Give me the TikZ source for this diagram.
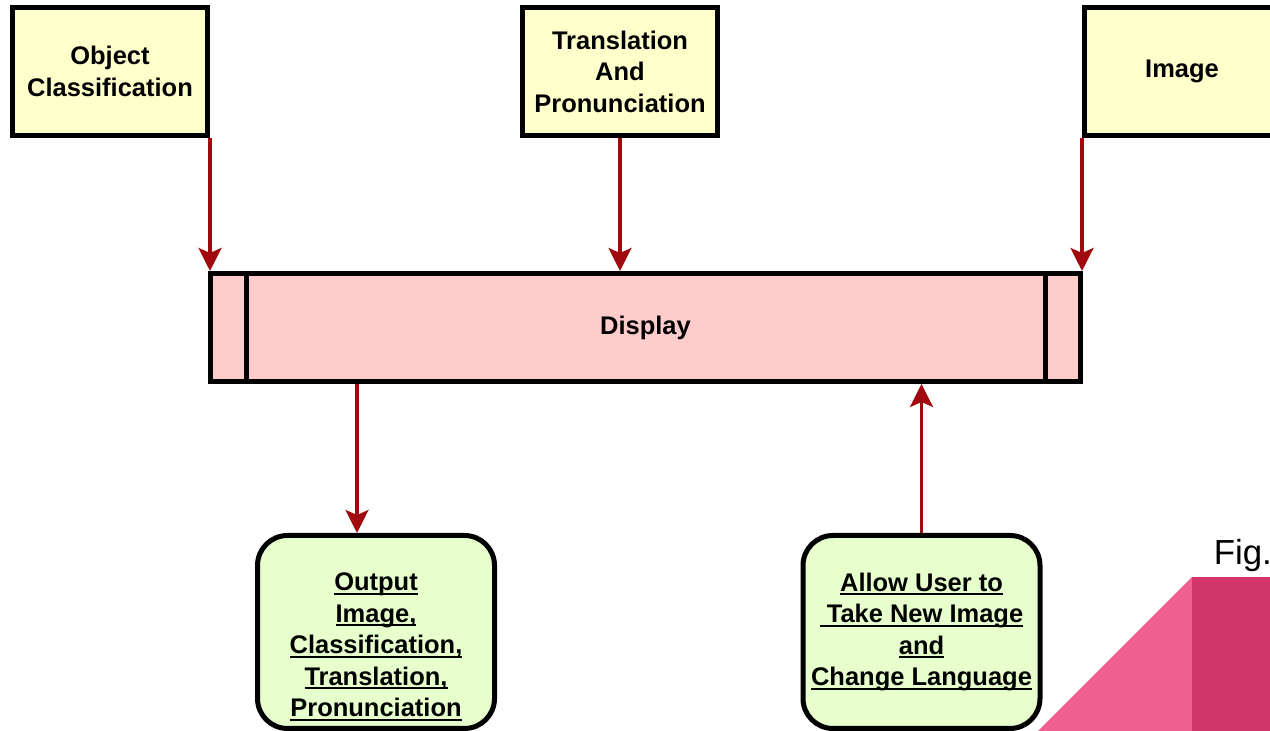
\documentclass[tikz,border=0pt]{standalone}
\usepackage{fontspec}
\setmainfont{Liberation Sans}
\usepackage{tikz}
\usetikzlibrary{arrows.meta}

\definecolor{boxyellow}{HTML}{FFFFCC}
\definecolor{barpink}{HTML}{FFCCCC}
\definecolor{boxgreen}{HTML}{E6FFCC}
\definecolor{flowred}{HTML}{A00A0F}
\definecolor{cornerlight}{HTML}{EF5F8F}
\definecolor{cornerdark}{HTML}{D03469}
\newcommand{\undl}[1]{\leavevmode\setbox0\hbox{#1}\rlap{\rule[-2.2pt]{\wd0}{1.1pt}}\box0}

\begin{document}
\begin{tikzpicture}
  \tikzset{block/.style = {shape=rectangle,draw,line width=0.1cm,fill=boxyellow,minimum width=3.9cm,minimum height=2.56cm,inner sep=1pt,align=center,font=\fontsize{14.5}{17.9}\selectfont\bfseries}}
  \tikzset{bar/.style = {block,fill=barpink,minimum width=17.4cm,minimum height=2.16cm}}
  \tikzset{endbox/.style = {block,fill=boxgreen,rounded corners=0.6cm,minimum width=4.74cm,minimum height=3.86cm}}
  \tikzset{flow/.style = {-{Stealth[length=0.46cm,width=0.46cm,inset=0.1cm]},draw=flowred,fill=flowred,line width=0.065cm}}

  \useasboundingbox (0,0) rectangle (25.4,14.62);

  % corner decoration
  \fill[cornerlight] (20.76,0) -- (23.84,3.08) -- (23.84,0) -- cycle;
  \fill[cornerdark] (23.84,0) rectangle (25.4,3.08);
  \node[anchor=base west,inner sep=0pt,font=\fontsize{19.8}{24}\selectfont] (fig) at (24.27,3.32) {Fig.};

	\node[block] (obj) at (2.2,13.19) {Object\\Classification};
	\node[block] (trans) at (12.4,13.19) {Translation\\And\\Pronunciation};
	\node[block] (img) at (23.64,13.19) {Image};

	\node[bar] (disp) at (12.91,8.07) {Display};
	\draw[line width=0.1cm] ([xshift=0.76cm]disp.north west) -- ([xshift=0.76cm]disp.south west);
	\draw[line width=0.1cm] ([xshift=-0.76cm]disp.north east) -- ([xshift=-0.76cm]disp.south east);

	\node[endbox] (out) at (7.52,1.98) {\rule{0pt}{0.95cm}\undl{Output}\\\undl{Image,}\\\undl{Classification,}\\\undl{Translation,}\\\undl{Pronunciation}};
	\node[endbox] (user) at (18.43,1.98) {\undl{Allow User to}\\\undl{\ Take New Image}\\\undl{and}\\\undl{Change Language}};
	\coordinate (outin) at ([xshift=-0.38cm]out.north);

    \foreach \from in {obj.south east, trans.south, img.south west}
    \draw[flow] (\from) -- (\from |- disp.north);
	\draw[flow] (outin |- disp.south) -- (outin);
	\draw[flow] (user.north) -- (user.north |- disp.south);
\end{tikzpicture}
\end{document}
